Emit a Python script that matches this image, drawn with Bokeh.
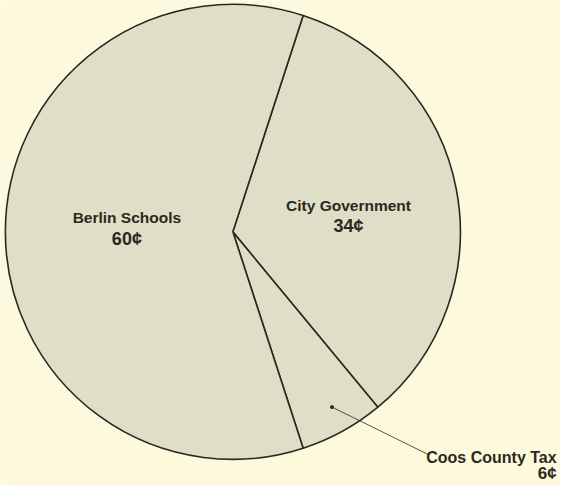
import math
from bokeh.plotting import figure
from bokeh.models import Range1d, ColumnDataSource
from bokeh.core.properties import value
from bokeh.embed import file_html
from bokeh.resources import INLINE

# ---- data ----
categories = ["City Government", "Coos County Tax", "Berlin Schools"]
cents = [34, 6, 60]
value_labels = ["34¢", "6¢", "60¢"]

# ---- layout constants (image pixel space, y measured upward) ----
W_IMG, H_IMG = 576, 501
CX, CY = 239, H_IMG - 239
R = 234
START_DEG = 72.0  # screen angle where first slice begins, slices run clockwise

BG = "#fdf9dc"
PIE = "#dfdec6"
INK = "#2c2820"
FONT = "Liberation Sans"

total = sum(cents)
starts, ends = [], []
a = math.radians(START_DEG)
for v in cents:
    starts.append(a)
    a = a - 2 * math.pi * v / total
    ends.append(a)

src = ColumnDataSource(dict(cat=categories, val=cents, start=starts, end=ends))

p = figure(width=560, height=485, x_range=Range1d(0, W_IMG), y_range=Range1d(0, H_IMG),
           output_backend="svg", toolbar_location=None, min_border=0)
p.axis.visible = False
p.grid.visible = False
p.outline_line_color = None
p.background_fill_color = BG
p.border_fill_color = BG

p.wedge(x=CX, y=CY, radius=R, start_angle="start", end_angle="end", direction="clock",
        source=src, fill_color=PIE, line_color=INK, line_width=1.6)

# label positions (image coords, y downward) for name / value
name_pos = {"Berlin Schools": (130, 224), "City Government": (358, 212)}
val_pos = {"Berlin Schools": (130, 246), "City Government": (358, 233)}

for cat, lab in zip(categories, value_labels):
    if cat in name_pos:
        nx, ny = name_pos[cat]
        vx, vy = val_pos[cat]
        p.text(x=[nx], y=[H_IMG - ny], text=[cat], text_align="center", text_baseline="middle",
               text_font=value(FONT), text_font_style="bold", text_font_size="15.5px", text_color=INK)
        p.text(x=[vx], y=[H_IMG - vy], text=[lab], text_align="center", text_baseline="middle",
               text_font=value(FONT), text_font_style="bold", text_font_size="18px", text_color=INK)

# Coos County callout
coos_i = categories.index("Coos County Tax")
p.segment(x0=[341], y0=[H_IMG - 420], x1=[440], y1=[H_IMG - 469], line_color=INK, line_width=0.8)
p.scatter(x=[341], y=[H_IMG - 420], size=3, color=INK)
p.text(x=[572], y=[H_IMG - 472], text=[categories[coos_i]], text_align="right", text_baseline="middle",
       text_font=value(FONT), text_font_style="bold", text_font_size="16px", text_color=INK)
p.text(x=[572], y=[H_IMG - 489], text=[value_labels[coos_i]], text_align="right", text_baseline="middle",
       text_font=value(FONT), text_font_style="bold", text_font_size="17px", text_color=INK)

open("out.html", "w").write(file_html(p, INLINE))
